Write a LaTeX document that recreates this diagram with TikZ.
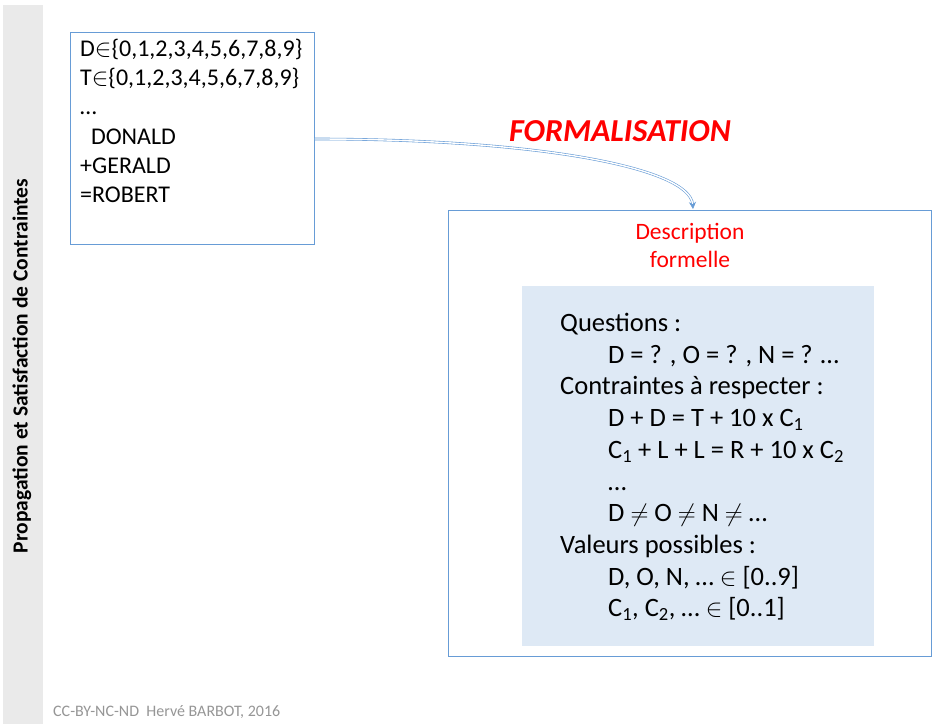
\documentclass[tikz,border=0pt]{standalone}
\usepackage{fontspec}
\setmainfont{Carlito}
\usetikzlibrary{arrows.meta}
\definecolor{frameblue}{RGB}{103,156,214}
\definecolor{panelblue}{RGB}{222,233,245}
\definecolor{stripegrey}{RGB}{234,234,234}
\definecolor{footgrey}{RGB}{150,150,150}
\definecolor{titlered}{RGB}{255,0,0}
\tikzset{
  framebox/.style={draw=frameblue, line width=0.9pt},
  lefttext/.style={anchor=north west, align=left, inner sep=0pt,
    font=\fontsize{24}{29.2}\selectfont},
  paneltext/.style={anchor=north west, align=left, inner sep=0pt,
    font=\fontsize{26.5}{31.7}\selectfont},
}
\newcommand{\sub}[1]{\textsubscript{#1}}
\begin{document}
\begin{tikzpicture}[x=1pt,y=-1pt]
  \useasboundingbox (0,0) rectangle (937,724);
  \fill[white] (0,0) rectangle (937,724);
  % side band with running title
  \fill[stripegrey] (3,5) rectangle (43,724);
  \node[rotate=90, font=\fontsize{21.5}{24}\selectfont\bfseries] (side) at (22,366)
    {Propagation et Satisfaction de Contraintes};
  % footer
  \node[anchor=west, text=footgrey, font=\fontsize{16}{18}\selectfont, inner sep=0pt] (foot) at (53,712)
    {CC-BY-NC-ND\ \ Hervé BARBOT, 2016};
  % puzzle box
  \node[framebox, minimum width=244pt, minimum height=212pt, anchor=north west] (puzzle) at (70,32) {};
  \node[lefttext] (puzzletext) at (80,39) {%
    D$\in$\{0,1,2,3,4,5,6,7,8,9\}\\
    T$\in$\{0,1,2,3,4,5,6,7,8,9\}\\
    …\\
    \ \ DONALD\\
    +GERALD\\
    =ROBERT};
  % formal description box
  \node[framebox, minimum width=483pt, minimum height=446pt, anchor=north west] (formal) at (448,210) {};
  \node[text=titlered, align=center, font=\fontsize{23.5}{28}\selectfont, inner sep=0pt] (formaltitle) at (690,245)
    {Description\\formelle};
  \node[fill=panelblue, minimum width=352pt, minimum height=360pt, anchor=north west, inner sep=0pt] (panel) at (522,286) {};
  \node[paneltext] (paneltextnode) at (560,313) {%
    Questions :\\
    \hspace*{48pt}D = ? , O = ? , N = ? …\\
    Contraintes à respecter :\\
    \hspace*{48pt}D + D = T + 10 x C\sub{1}\\
    \hspace*{48pt}C\sub{1} + L + L = R + 10 x C\sub{2}\\
    \hspace*{48pt}…\\
    \hspace*{48pt}D $\neq$ O $\neq$ N $\neq$ …\\
    Valeurs possibles :\\
    \hspace*{48pt}D, O, N, … $\in$ [0..9]\\
    \hspace*{48pt}C\sub{1}, C\sub{2}, … $\in$ [0..1]};
  % formalisation step
  \node[text=titlered, font=\fontsize{32}{35}\selectfont\bfseries\itshape, inner sep=0pt] (step) at (620,131)
    {FORMALISATION};
  \coordinate (arrowstart) at (puzzle.east |- 0,139);
  \coordinate (arrowend) at (693,209);
  \draw[draw=frameblue, line width=0.6pt, double=white, double distance=1.4pt,
        -{Stealth[length=7pt,width=7pt,fill=frameblue]}]
    (arrowstart) .. controls (540,139) and (690,168) .. (arrowend);
\end{tikzpicture}
\end{document}
